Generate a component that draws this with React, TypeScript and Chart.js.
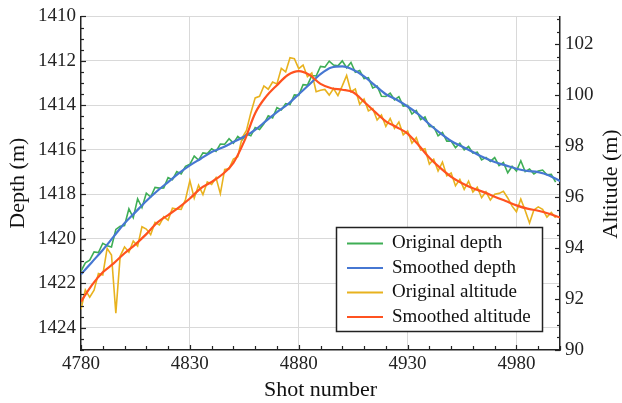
import React, { useEffect, useRef } from "react";
import { Chart, registerables } from "chart.js";

Chart.register(...registerables);

const FONT = '"Liberation Serif", "Times New Roman", serif';

const X_TICKS = [4780, 4830, 4880, 4930, 4980];
const DEPTH_TICKS = [1410, 1412, 1414, 1416, 1418, 1420, 1422, 1424];
const ALT_TICKS = [90, 92, 94, 96, 98, 100, 102];

const RAW_SHOTS = [
  4780, 4782, 4784, 4786, 4788, 4790, 4792, 4794, 4796, 4798,
  4800, 4802, 4804, 4806, 4808, 4810, 4812, 4814, 4816, 4818,
  4820, 4822, 4824, 4826, 4828, 4830, 4832, 4834, 4836, 4838,
  4840, 4842, 4844, 4846, 4848, 4850, 4852, 4854, 4856, 4858,
  4860, 4862, 4864, 4866, 4868, 4870, 4872, 4874, 4876, 4878,
  4880, 4882, 4884, 4886, 4888, 4890, 4892, 4894, 4896, 4898,
  4900, 4902, 4904, 4906, 4908, 4910, 4912, 4914, 4916, 4918,
  4920, 4922, 4924, 4926, 4928, 4930, 4932, 4934, 4936, 4938,
  4940, 4942, 4944, 4946, 4948, 4950, 4952, 4954, 4956, 4958,
  4960, 4962, 4964, 4966, 4968, 4970, 4972, 4974, 4976, 4978,
  4980, 4982, 4984, 4986, 4988, 4990, 4992, 4994, 4996, 4998,
];

const ORIGINAL_DEPTH = [
  1421.45, 1421.08, 1420.96, 1420.59, 1420.62, 1420.2, 1420.31, 1420.37, 1419.58, 1419.44,
  1419.4, 1418.65, 1419.05, 1418.2, 1418.6, 1417.95, 1418.12, 1417.69, 1417.72, 1417.71,
  1417.25, 1417.34, 1416.98, 1417.08, 1416.74, 1416.65, 1416.28, 1416.46, 1416.14, 1416.17,
  1415.95, 1416.07, 1415.74, 1415.75, 1415.5, 1415.7, 1415.4, 1415.55, 1415.29, 1415.37,
  1415.0, 1415.09, 1414.83, 1414.47, 1414.56, 1414.1, 1414.21, 1413.92, 1413.96, 1413.53,
  1413.55, 1413.07, 1413.09, 1412.66, 1412.68, 1412.25, 1412.28, 1412.01, 1412.19, 1412.22,
  1412.0, 1412.31, 1412.07, 1412.51, 1412.43, 1412.8, 1412.76, 1413.22, 1413.13, 1413.59,
  1413.6, 1413.45, 1413.75, 1413.61, 1414.03, 1414.0, 1414.39, 1414.23, 1414.64, 1414.52,
  1414.95, 1414.96, 1415.37, 1415.22, 1415.61, 1415.6, 1415.9, 1415.7, 1416.0, 1415.85,
  1416.15, 1416.1, 1416.45, 1416.34, 1416.52, 1416.35, 1416.71, 1416.57, 1417.03, 1416.74,
  1416.95, 1416.49, 1416.98, 1416.86, 1417.08, 1416.95, 1416.91, 1417.12, 1417.1, 1417.45,
];

const ORIGINAL_ALTITUDE = [
  91.6, 92.36, 92.07, 92.35, 93.0, 92.95, 93.99, 93.73, 91.45, 93.69,
  94.05, 93.84, 94.28, 94.08, 94.84, 94.75, 94.53, 95.01, 94.91, 95.23,
  95.1, 95.57, 95.54, 95.52, 95.91, 96.65, 95.96, 96.47, 96.1, 96.6,
  96.5, 96.77, 96.14, 97.09, 97.12, 97.5, 97.59, 98.33, 98.62, 99.31,
  99.9, 99.96, 100.37, 100.24, 100.52, 100.45, 101.06, 100.92, 101.48, 101.44,
  101.05, 101.19, 100.73, 100.88, 100.14, 100.2, 100.23, 100.01, 100.27, 99.99,
  100.37, 100.78, 100.14, 100.25, 99.65, 99.85, 99.39, 99.48, 99.03, 99.23,
  98.78, 99.09, 98.7, 98.95, 98.45, 98.6, 98.12, 98.34, 97.85, 97.9,
  97.3, 97.49, 97.03, 97.38, 96.84, 96.95, 96.45, 96.7, 96.31, 96.63,
  96.2, 96.39, 95.98, 96.21, 95.89, 96.12, 96.15, 96.23, 95.97, 95.65,
  95.43, 95.93, 95.48, 94.99, 95.5, 95.62, 95.52, 95.22, 95.4, 95.19,
];

const SMOOTH_SHOTS = [
  4780, 4785, 4790, 4795, 4800, 4805, 4810, 4815, 4820, 4825,
  4830, 4835, 4840, 4845, 4850, 4855, 4860, 4865, 4870, 4875,
  4880, 4885, 4890, 4895, 4900, 4905, 4910, 4915, 4920, 4925,
  4930, 4935, 4940, 4945, 4950, 4955, 4960, 4965, 4970, 4975,
  4980, 4985, 4990, 4995, 5000,
];

const SMOOTHED_DEPTH = [
  1421.6, 1421.05, 1420.5, 1419.9, 1419.3, 1418.8, 1418.3, 1417.85, 1417.45, 1417.05,
  1416.7, 1416.4, 1416.1, 1415.9, 1415.65, 1415.4, 1415.1, 1414.7, 1414.3, 1413.95,
  1413.5, 1413.05, 1412.6, 1412.3, 1412.25, 1412.4, 1412.7, 1413.1, 1413.5, 1413.75,
  1414.05, 1414.4, 1414.85, 1415.25, 1415.6, 1415.85, 1416.1, 1416.35, 1416.55, 1416.7,
  1416.85, 1416.95, 1417.0, 1417.15, 1417.4,
];

const SMOOTHED_ALTITUDE = [
  91.9, 92.55, 93.05, 93.4, 93.8, 94.15, 94.55, 95.0, 95.3, 95.6,
  95.95, 96.35, 96.6, 96.9, 97.35, 98.2, 99.3, 99.95, 100.4, 100.8,
  100.95, 100.8, 100.45, 100.28, 100.22, 100.12, 99.75, 99.35, 98.98, 98.75,
  98.5, 98.05, 97.55, 97.15, 96.8, 96.55, 96.35, 96.2, 96.02, 95.85,
  95.68, 95.55, 95.47, 95.35, 95.2,
];

const SERIES_NAMES = ["Original depth", "Smoothed depth", "Original altitude", "Smoothed altitude"];
const SERIES_COLORS = ["#3fae55", "#4677d2", "#e8b21e", "#ff5220"];

export default function App() {
  const ref = useRef<HTMLCanvasElement>(null);

  useEffect(() => {
    const canvas = ref.current;
    if (!canvas) return;
    const toXY = (xs: number[], ys: number[]) => xs.map((x, i) => ({ x, y: ys[i] }));
    const setTicks = (vals: number[]) => (scale: any) => {
      scale.ticks = vals.map((v) => ({ value: v }));
    };

    const decor = {
      id: "decor",
      afterDraw(chart: any) {
        const { ctx, chartArea: a, scales } = chart;
        ctx.save();
        ctx.strokeStyle = "#222";
        ctx.lineWidth = 1.2;
        // x ticks (inside)
        for (let v = 4780; v <= 5000; v += 10) {
          const px = Math.round(scales.x.getPixelForValue(v)) + 0.5;
          const len = (v - 4780) % 50 === 0 ? 5 : 4;
          ctx.beginPath();
          ctx.moveTo(px, a.bottom);
          ctx.lineTo(px, a.bottom - len);
          ctx.stroke();
        }
        // left ticks
        for (let v = 1410; v <= 1425; v += 0.5) {
          const py = Math.round(scales.y.getPixelForValue(v)) + 0.5;
          const len = v % 2 === 0 ? 5 : 3;
          ctx.beginPath();
          ctx.moveTo(a.left, py);
          ctx.lineTo(a.left + len, py);
          ctx.stroke();
        }
        // right ticks
        for (let v = 90; v <= 103; v += 0.5) {
          const py = Math.round(scales.y1.getPixelForValue(v)) + 0.5;
          const len = v % 2 === 0 ? 5 : 3;
          ctx.beginPath();
          ctx.moveTo(a.right, py);
          ctx.lineTo(a.right - len, py);
          ctx.stroke();
        }
        // right title
        ctx.save();
        ctx.translate(611, 184);
        ctx.rotate(-Math.PI / 2);
        ctx.fillStyle = "#111";
        ctx.font = `22px ${FONT}`;
        ctx.textAlign = "center";
        ctx.textBaseline = "middle";
        ctx.fillText("Altitude (m)", 0, 0);
        ctx.restore();
        // legend
        const bx = 336.5, by = 227.5, bw = 206, bh = 104;
        ctx.fillStyle = "#ffffff";
        ctx.fillRect(bx, by, bw, bh);
        ctx.lineWidth = 1.5;
        ctx.strokeStyle = "#222";
        ctx.strokeRect(bx, by, bw, bh);
        ctx.font = `19px ${FONT}`;
        ctx.textAlign = "left";
        ctx.textBaseline = "middle";
        SERIES_NAMES.forEach((name, i) => {
          const y = 243.5 + i * 24.5;
          ctx.strokeStyle = SERIES_COLORS[i];
          ctx.lineWidth = 2.2;
          ctx.beginPath();
          ctx.moveTo(347, y);
          ctx.lineTo(383, y);
          ctx.stroke();
          ctx.fillStyle = "#111";
          ctx.fillText(name, 392, y);
        });
        ctx.restore();
      },
    };

    const chart = new Chart(canvas, {
      type: "line",
      data: {
        datasets: [
          {
            label: SERIES_NAMES[0],
            data: toXY(RAW_SHOTS, ORIGINAL_DEPTH),
            borderColor: SERIES_COLORS[0],
            borderWidth: 1.6,
            pointRadius: 0,
            tension: 0,
            yAxisID: "y",
            order: 3,
          },
          {
            label: SERIES_NAMES[1],
            data: toXY(SMOOTH_SHOTS, SMOOTHED_DEPTH),
            borderColor: SERIES_COLORS[1],
            borderWidth: 2.2,
            pointRadius: 0,
            cubicInterpolationMode: "monotone",
            yAxisID: "y",
            order: 1,
          },
          {
            label: SERIES_NAMES[2],
            data: toXY(RAW_SHOTS, ORIGINAL_ALTITUDE),
            borderColor: SERIES_COLORS[2],
            borderWidth: 1.6,
            pointRadius: 0,
            tension: 0,
            yAxisID: "y1",
            order: 2,
          },
          {
            label: SERIES_NAMES[3],
            data: toXY(SMOOTH_SHOTS, SMOOTHED_ALTITUDE),
            borderColor: SERIES_COLORS[3],
            borderWidth: 2.2,
            pointRadius: 0,
            cubicInterpolationMode: "monotone",
            yAxisID: "y1",
            order: 0,
          },
        ],
      },
      options: {
        animation: false,
        responsive: false,
        devicePixelRatio: 1,
        layout: { padding: { top: 16, left: 0, right: 0, bottom: 0 } },
        plugins: { legend: { display: false }, tooltip: { enabled: false } },
        scales: {
          x: {
            type: "linear",
            min: 4780,
            max: 5000,
            afterBuildTicks: setTicks(X_TICKS),
            afterFit: (s: any) => {
              s.height = 53;
            },
            grid: {
              color: (c: any) => (c.tick && c.tick.value === 4780 ? "rgba(0,0,0,0)" : "#d9d9d9"),
              lineWidth: 1,
              drawTicks: false,
            },
            border: { display: true, color: "#222", width: 1.5 },
            ticks: {
              padding: 3,
              autoSkip: false,
              maxRotation: 0,
              color: "#222",
              font: { family: FONT, size: 19 },
              callback: (v: any) => String(v),
            },
            title: {
              display: true,
              text: "Shot number",
              color: "#111",
              font: { family: FONT, size: 22 },
              padding: { top: 0, bottom: 0 },
            },
          },
          y: {
            type: "linear",
            position: "left",
            reverse: true,
            min: 1410,
            max: 1425,
            afterBuildTicks: setTicks(DEPTH_TICKS),
            afterFit: (s: any) => {
              s.width = 81;
            },
            grid: { color: "#d9d9d9", lineWidth: 1, drawTicks: false },
            border: { display: true, color: "#222", width: 1.5 },
            ticks: {
              padding: 5,
              autoSkip: false,
              color: "#222",
              font: { family: FONT, size: 19 },
              callback: (v: any) => String(v),
            },
            title: {
              display: true,
              text: "Depth (m)",
              color: "#111",
              font: { family: FONT, size: 22 },
              padding: { top: 5, bottom: 0 },
            },
          },
          y1: {
            type: "linear",
            position: "right",
            min: 90,
            max: 103.1,
            afterBuildTicks: setTicks(ALT_TICKS),
            afterFit: (s: any) => {
              s.width = 62;
            },
            grid: { display: false, drawOnChartArea: false, drawTicks: false },
            border: { display: true, color: "#222", width: 1.5 },
            ticks: {
              padding: 5,
              autoSkip: false,
              color: "#222",
              font: { family: FONT, size: 19 },
              callback: (v: any) => String(v),
            },
          },
        },
      },
      plugins: [decor],
    } as any);

    return () => chart.destroy();
  }, []);

  return (
    <div style={{ position: "absolute", left: 0, top: 0, width: 622, height: 403, background: "#fff" }}>
      <canvas ref={ref} width={622} height={403} style={{ display: "block" }} />
    </div>
  );
}
